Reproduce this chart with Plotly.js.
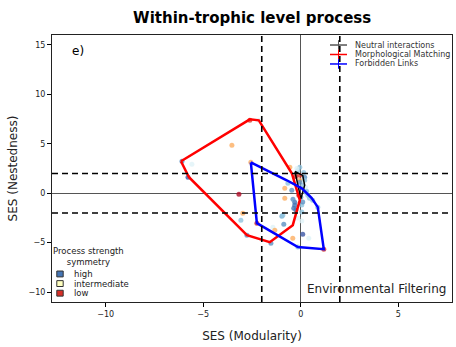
<!DOCTYPE html>
<html><head><meta charset="utf-8">
<script src="https://cdn.plot.ly/plotly-3.0.1.min.js"></script>
<style>html,body{margin:0;padding:0;background:#fff}#c{width:456px;height:347px}</style>
</head><body><div id="c"></div>
<script>
// Convex hulls of each process (SES Modularity, SES Nestedness)
const neutralX = [-0.3, 0.1, 0.2, 0.0, -0.1, -0.3];
const neutralY = [2.2, 1.8, 0.8, -0.6, 0.4, 2.2];
const morphX = [-6.14, -5.73, -2.76, -1.94, -1.59, -0.41, -0.05, -0.46, -2.15, -2.61, -6.14];
const morphY = [3.23, 1.62, -4.24, -4.75, -4.95, -3.23, -0.7, 2.02, 7.37, 7.47, 3.23];
const forbX = [-2.56, -2.25, -0.15, 1.18, 0.87, 0.56, 0.05, -0.72, -2.56];
const forbY = [3.13, -3.03, -5.45, -5.66, -1.41, -0.5, 0.5, 1.31, 3.13];

// Individual networks: position and process-strength symmetry (0 low .. 1 high)
const ptX = [-6.09,-5.58,-5.78,-3.53,-3.17,-2.97,-3.07,-2.76,-2.61,-2.15,-2.56,-2.25,-1.53,-1.43,-1.33,-0.97,-0.87,-0.41,-0.15,0.10,0.41,1.18,0.61,0.87,-0.56,-0.05,-0.05,-0.05,-0.82,-0.82,-0.46,-0.31,-0.31,-0.36,-0.92,0.20,0.10,0.26,0.00,0.05,-0.15,0.36,-0.15,-0.20,0.05,-0.66,-0.26,-0.10,0.15,-0.05,0.25,0.45,0.10,-0.25,0.20,-0.40,0.30,0.05];
const ptY = [3.23,2.93,1.62,4.85,-0.10,-2.02,-2.73,-4.24,7.37,7.37,3.13,-3.03,-5.05,-3.43,-3.74,-2.32,-3.13,-4.55,-5.45,-4.14,-4.55,-5.66,-0.71,-1.41,2.63,2.63,1.82,1.31,0.50,-0.50,0.30,-0.91,-1.21,-1.52,-2.22,1.62,0.81,0.10,-0.40,-1.20,-2.50,-0.20,2.30,2.50,-1.90,1.00,1.70,-0.20,2.10,1.10,0.60,-0.50,-0.90,-1.70,1.30,-0.60,0.20,-2.80];
const ptSym = [0.85,0.6,0.95,0.3,0.02,0.3,0.75,0.85,0.12,0.6,0.3,0.1,0.85,0.6,0.3,0.8,0.85,0.3,0.75,0.95,0.6,0.1,0.75,0.75,0.3,0.75,0.1,0.3,0.3,0.3,0.85,0.9,0.9,0.9,0.75,0.85,0.75,0.75,0.85,0.75,0.6,0.75,0.75,0.6,0.75,0.75,0.1,0.1,0.75,0.85,0.6,0.75,0.85,0.9,0.75,0.85,0.75,0.6];

const lineNames = ['Neutral interactions', 'Morphological Matching', 'Forbidden Links'];
const lineColors = ['#555555', '#ff0000', '#0000ff'];
const symTitle = 'Process strength<br>symmetry';
const symLabels = ['high', 'intermediate', 'low'];
const symColors = ['#4575b4', '#ffffbf', '#d73027'];
const thresholds = [-2, 2];

const rdylbu = [[0,'#a50026'],[0.1,'#d73027'],[0.2,'#f46d43'],[0.3,'#fdae61'],[0.4,'#fee090'],[0.5,'#ffffbf'],[0.6,'#e0f3f8'],[0.7,'#abd9e9'],[0.8,'#74add1'],[0.9,'#4575b4'],[1,'#313695']];

const F = 'DejaVu Sans, sans-serif';
const traces = [
  {x: ptX, y: ptY, mode: 'markers', type: 'scatter', showlegend: false, hoverinfo: 'skip',
   marker: {size: 5, color: ptSym, colorscale: rdylbu, cmin: 0, cmax: 1, opacity: 0.8}},
  {x: neutralX, y: neutralY, mode: 'lines', showlegend: false, line: {color: '#000', width: 1.5}},
  {x: morphX, y: morphY, mode: 'lines', showlegend: false, line: {color: '#ff0000', width: 2.5}},
  {x: forbX, y: forbY, mode: 'lines', showlegend: false, line: {color: '#0000ff', width: 2.5}}
];

const shapes = [];
thresholds.forEach(t => {
  shapes.push({type: 'line', xref: 'x', yref: 'paper', x0: t, x1: t, y0: 0, y1: 1, line: {color: '#000', width: 1.6, dash: '6px,4px'}});
  shapes.push({type: 'line', xref: 'paper', yref: 'y', x0: 0, x1: 1, y0: t, y1: t, line: {color: '#000', width: 1.6, dash: '6px,4px'}});
});

const annotations = [
  {x: -11.4, y: 14.4, xref: 'x', yref: 'y', text: 'e)', showarrow: false, font: {size: 12}},
  {x: 7.55, y: -9.7, xref: 'x', yref: 'y', text: 'Environmental Filtering', showarrow: false, xanchor: 'right', font: {size: 12, color: '#222'}}
];

// Legend 1 (processes), top right, drawn in paper units
const L1 = {x0: 0.695, x1: 0.7375, tx: 0.7525, y: 0.9625, dy: 0.0355};
lineNames.forEach((n, i) => {
  const y = L1.y - i * L1.dy, xc = (L1.x0 + L1.x1) / 2;
  shapes.push({type: 'line', xref: 'paper', yref: 'paper', x0: L1.x0, x1: L1.x1, y0: y, y1: y, line: {color: lineColors[i], width: 1.5}});
  shapes.push({type: 'line', xref: 'paper', yref: 'paper', x0: xc, x1: xc, y0: y - 0.018, y1: y + 0.018, line: {color: lineColors[i], width: 1}});
  annotations.push({x: L1.tx, y: y, xref: 'paper', yref: 'paper', xanchor: 'left', yanchor: 'middle', text: n, showarrow: false, font: {size: 8, color: '#333'}});
});
// Legend 2 (process strength symmetry), bottom left
annotations.push({x: 0.09, y: 0.169, xref: 'paper', yref: 'paper', xanchor: 'center', yanchor: 'middle', text: symTitle, showarrow: false, align: 'center', font: {size: 8.5, color: '#222'}});
const L2 = {sx: 0.02, tx: 0.05, y: 0.105, dy: 0.036, hs: 0.008, vs: 0.011};
symLabels.forEach((n, i) => {
  const y = L2.y - i * L2.dy;
  shapes.push({type: 'rect', xref: 'paper', yref: 'paper', x0: L2.sx - L2.hs, x1: L2.sx + L2.hs, y0: y - L2.vs, y1: y + L2.vs, fillcolor: symColors[i], line: {color: '#333', width: 1}});
  annotations.push({x: L2.tx, y: y, xref: 'paper', yref: 'paper', xanchor: 'left', yanchor: 'middle', text: n, showarrow: false, font: {size: 8.5, color: '#222'}});
});

const layout = {
  width: 456, height: 347,
  margin: {l: 52, r: 4, t: 35, b: 45},
  paper_bgcolor: '#fff', plot_bgcolor: '#fff',
  font: {family: F, color: '#000'},
  title: {text: '<b>Within-trophic level process</b>', font: {size: 15, family: F}, x: 0.553, xanchor: 'center', y: 0.95, yanchor: 'middle'},
  xaxis: {range: [-12.75, 7.75], tickvals: [-10, -5, 0, 5], ticks: 'outside', ticklen: 4, tickcolor: '#000',
          tickfont: {size: 8, color: '#222'}, showgrid: false, zeroline: true, zerolinecolor: '#555', zerolinewidth: 1,
          showline: true, mirror: true, linecolor: '#222', linewidth: 1,
          title: {text: 'SES (Modularity)', font: {size: 12, color: '#222'}, standoff: 14}},
  yaxis: {range: [-11, 16], tickvals: [-10, -5, 0, 5, 10, 15], ticks: 'outside', ticklen: 4, tickcolor: '#000',
          tickfont: {size: 8, color: '#222'}, showgrid: false, zeroline: true, zerolinecolor: '#555', zerolinewidth: 1,
          showline: true, mirror: true, linecolor: '#222', linewidth: 1,
          title: {text: 'SES (Nestedness)', font: {size: 12, color: '#222'}, standoff: 8}},
  shapes: shapes,
  annotations: annotations,
  showlegend: false
};
Plotly.newPlot('c', traces, layout, {displayModeBar: false, staticPlot: true});
</script></body></html>
